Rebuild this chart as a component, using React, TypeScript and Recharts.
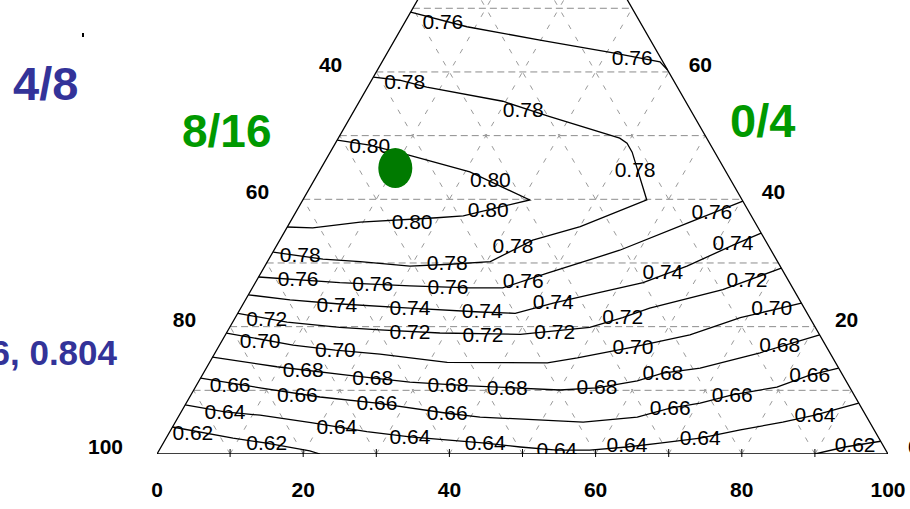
import { ScatterChart, Scatter, XAxis, YAxis } from "recharts";

// contour lines: [position along base %, height %] in triangle units
const line076a = [[34.7, 69.4], [42.4, 67.1], [52.4, 65.0], [62.4, 63.0], [68.8, 61.6], [69.85, 60.3]];
const lab076a = [[39.1, 67.9], [65.0, 62.2]];

const line078 = [
  [29.6, 59.2], [33.2, 58.7], [36.9, 57.6], [47.3, 55.4], [53.4, 53.1], [63.3, 49.6], [64.3, 48.8],
  [65.0, 47.4], [67.0, 39.9], [57.9, 35.7], [51.4, 33.6], [45.6, 30.2], [40.1, 29.8], [34.6, 29.5],
  [27.8, 30.2], [22.7, 30.6], [15.9, 31.7],
];
const lab078 = [[33.9, 58.4], [50.1, 54.0], [65.4, 44.6], [48.7, 32.7], [19.6, 31.3], [39.7, 30.0]];

const line080 = [
  [24.66, 49.3], [29.1, 48.5], [34.2, 47.0], [42.8, 44.3], [51.0, 39.9], [41.9, 37.4], [38.3, 37.1],
  [27.8, 36.4], [21.3, 35.5], [17.8, 35.65],
];
const lab080 = [[29.1, 48.4], [45.6, 43.0], [34.9, 36.4], [45.3, 38.3]];

const line076b = [[13.9, 27.8], [25.0, 26.9], [34.6, 26.4], [42.8, 26.1], [47.3, 26.1], [53.4, 28.4], [63.3, 32.0], [72.9, 36.4], [80.15, 39.7]];
const lab076b = [[19.3, 27.5], [29.5, 26.7], [39.8, 26.2], [50.1, 27.2], [75.9, 38.0]];

const line074 = [
  [12.5, 25.0], [18.2, 24.2], [24.6, 23.6], [34.6, 22.9], [44.2, 22.3], [49.0, 22.1], [54.2, 23.7],
  [60.6, 25.4], [66.5, 26.9], [72.5, 29.5], [78.8, 32.8], [82.65, 34.7],
];
const lab074 = [[24.6, 23.4], [34.6, 22.9], [44.5, 22.5], [54.2, 23.9], [69.2, 28.6], [78.8, 33.1]];

const line072 = [
  [11.07, 22.1], [17.8, 20.7], [25.0, 19.9], [30.5, 19.5], [38.7, 19.0], [49.7, 18.8], [59.2, 19.9],
  [63.7, 21.4], [67.4, 22.9], [77.4, 25.8], [85.4, 29.2],
];
const lab072 = [[15.0, 21.2], [34.6, 19.2], [44.6, 18.7], [54.4, 19.2], [63.7, 21.5], [80.7, 27.3]];

const line070 = [
  [9.5, 19.0], [18.6, 17.1], [24.4, 16.3], [30.5, 15.7], [39.7, 14.4], [53.4, 14.3], [57.5, 15.1],
  [65.1, 16.8], [72.9, 18.7], [79.8, 21.4], [88.15, 23.7],
];
const lab070 = [[14.1, 17.7], [24.4, 16.3], [65.1, 16.8], [84.1, 22.9]];

const line068 = [
  [7.6, 15.2], [16.4, 13.7], [26.0, 12.4], [34.6, 11.3], [42.8, 10.7], [55.1, 10.05], [60.2, 10.4],
  [65.7, 11.5], [69.2, 12.7], [74.3, 13.5], [82.5, 15.9], [90.65, 18.7],
];
const lab068 = [[20.0, 13.2], [29.5, 11.9], [39.8, 10.8], [47.9, 10.4], [60.2, 10.5], [69.2, 12.7], [85.2, 17.1]];

const line066 = [
  [5.97, 11.9], [14.1, 10.4], [22.3, 8.95], [30.1, 8.0], [39.7, 6.4], [44.2, 5.8], [58.3, 5.0],
  [65.7, 5.8], [70.2, 7.2], [74.3, 8.0], [78.7, 9.3], [84.8, 10.5], [89.3, 12.4], [93.25, 13.5],
];
const lab066 = [[10.0, 10.8], [19.2, 9.3], [30.1, 8.0], [39.7, 6.4], [70.2, 7.2], [78.7, 9.3], [89.3, 12.4]];

const line064 = [
  [3.85, 7.7], [9.3, 6.6], [14.1, 6.1], [21.3, 4.9], [28.7, 3.5], [34.6, 2.7], [44.9, 1.7], [49.7, 1.1],
  [54.7, 0.6], [59.2, 0.6], [64.3, 1.1], [68.8, 1.7], [74.3, 2.5], [79.8, 3.8], [85.6, 5.0], [90.0, 6.1],
  [96.0, 8.0],
];
const lab064 = [[9.3, 6.6], [24.6, 4.2], [34.6, 2.7], [44.9, 1.7], [54.7, 0.6], [64.3, 1.4], [74.3, 2.5], [90.0, 6.1]];

const line062a = [[2.12, 4.24], [10.4, 2.5], [15.0, 1.7], [20.9, 0.5], [22.3, 0]];
const lab062a = [[4.9, 3.3], [15.0, 1.7]];
const line062b = [[90.0, 0], [94.1, 1.1], [99.0, 2.0]];
const lab062b = [[95.5, 1.4]];

const contours = [
  { value: "0.76", line: line076a, labels: lab076a },
  { value: "0.78", line: line078, labels: lab078 },
  { value: "0.80", line: line080, labels: lab080 },
  { value: "0.76", line: line076b, labels: lab076b },
  { value: "0.74", line: line074, labels: lab074 },
  { value: "0.72", line: line072, labels: lab072 },
  { value: "0.70", line: line070, labels: lab070 },
  { value: "0.68", line: line068, labels: lab068 },
  { value: "0.66", line: line066, labels: lab066 },
  { value: "0.64", line: line064, labels: lab064 },
  { value: "0.62", line: line062a, labels: lab062a },
  { value: "0.62", line: line062b, labels: lab062b },
];

const gridSteps = [10, 20, 30, 40, 50, 60, 70, 80, 90];
const bottomTicks = [0, 20, 40, 60, 80, 100];
const leftTicks = [100, 80, 60, 40];
const rightTicks = [0, 20, 40, 60];
const marker = [[32.6, 44.9]];

const pts = (arr: number[][]) => arr.map(([x, y]) => ({ x, y }));
const font = "'Liberation Sans', Arial, sans-serif";
const none = () => <g />;

const ContourLabel = (p: any) => (
  <text x={p.cx} y={p.cy} dy={7} textAnchor="middle" fontSize={21} fontFamily={font} fill="#000">
    {p.payload.label}
  </text>
);

const AxisLabel = (p: any) => (
  <text
    x={p.cx + p.payload.dx}
    y={p.cy + p.payload.dy}
    textAnchor={p.payload.anchor}
    fontSize={21}
    fontWeight="bold"
    fontFamily={font}
    fill="#000"
  >
    {p.payload.label}
  </text>
);

const BaseTick = (p: any) => <line x1={p.cx} x2={p.cx} y1={p.cy - 5} y2={p.cy + 3} stroke="#000" strokeWidth={1} />;

const Dot = (p: any) => <ellipse cx={p.cx} cy={p.cy} rx={17} ry={20} fill="#007a00" />;

export default function App() {
  const horiz = gridSteps.filter((h) => h < 75).map((h) => pts([[h / 2, h], [100 - h / 2, h]]));
  const diagA = gridSteps.map((b) => pts([[b, 0], [b + (100 - b) / 2, 100 - b]]));
  const diagB = gridSteps.map((b) => pts([[b, 0], [b / 2, b]]));

  const labelData = contours.flatMap((c) => c.labels.map(([x, y]) => ({ x, y, label: c.value })));
  const axisData = [
    ...bottomTicks.map((v) => ({ x: v, y: 0, label: String(v), dx: 0, dy: 43, anchor: "middle" })),
    ...leftTicks.map((v) => ({ x: (100 - v) / 2, y: 100 - v, label: String(v), dx: -34, dy: 0, anchor: "end" })),
    ...rightTicks.map((v) => ({ x: 100 - v / 2, y: v, label: String(v), dx: 20, dy: 0, anchor: "start" })),
  ];

  return (
    <div style={{ position: "absolute", left: 0, top: 0, width: 910, height: 509, background: "#fff", overflow: "hidden" }}>
      <ScatterChart width={910} height={509} margin={{ top: 0, right: 22, bottom: 55, left: 157 }}>
        <XAxis type="number" dataKey="x" domain={[0, 100]} allowDataOverflow hide />
        <YAxis type="number" dataKey="y" domain={[0, 71.3]} allowDataOverflow hide />
        <XAxis xAxisId="free" type="number" dataKey="x" domain={[0, 100]} hide />
        <YAxis yAxisId="free" type="number" dataKey="y" domain={[0, 71.3]} hide />
        {horiz.map((d, i) => (
          <Scatter key={"h" + i} data={d} shape={none} line={{ stroke: "#8c8c8c", strokeWidth: 1, strokeDasharray: "7 4" }} isAnimationActive={false} />
        ))}
        {diagA.map((d, i) => (
          <Scatter key={"a" + i} data={d} shape={none} line={{ stroke: "#9a9a9a", strokeWidth: 1, strokeDasharray: "5 9" }} isAnimationActive={false} />
        ))}
        {diagB.map((d, i) => (
          <Scatter key={"b" + i} data={d} shape={none} line={{ stroke: "#9a9a9a", strokeWidth: 1, strokeDasharray: "5 9" }} isAnimationActive={false} />
        ))}
        <Scatter
          data={pts([[0, 0], [100, 0], [50, 100], [0, 0]])}
          shape={none}
          line={{ stroke: "#000", strokeWidth: 1.3 }}
          isAnimationActive={false}
        />
        <Scatter xAxisId="free" yAxisId="free" data={gridSteps.map((b) => ({ x: b, y: 0 }))} shape={BaseTick} isAnimationActive={false} />
        {contours.map((c, i) => (
          <Scatter key={"c" + i} data={pts(c.line)} shape={none} line={{ stroke: "#000", strokeWidth: 1.3 }} isAnimationActive={false} />
        ))}
        <Scatter data={labelData} shape={ContourLabel} isAnimationActive={false} />
        <Scatter data={pts(marker)} shape={Dot} isAnimationActive={false} />
        <Scatter xAxisId="free" yAxisId="free" data={axisData} shape={AxisLabel} isAnimationActive={false} />
      </ScatterChart>
      <svg width={910} height={509} style={{ position: "absolute", left: 0, top: 0, pointerEvents: "none" }}>
        <rect x={82} y={33} width={2} height={4} fill="#000" />
        <text x={13} y={100} fontSize={47} fontWeight="bold" fontFamily={font} fill="#333399">4/8</text>
        <text x={182} y={147} fontSize={46} fontWeight="bold" fontFamily={font} fill="#009900">8/16</text>
        <text x={730} y={137} fontSize={47} fontWeight="bold" fontFamily={font} fill="#009900">0/4</text>
        <text x={117} y={365} textAnchor="end" fontSize={35} fontWeight="bold" fontFamily={font} fill="#333399">6, 0.804</text>
      </svg>
    </div>
  );
}
